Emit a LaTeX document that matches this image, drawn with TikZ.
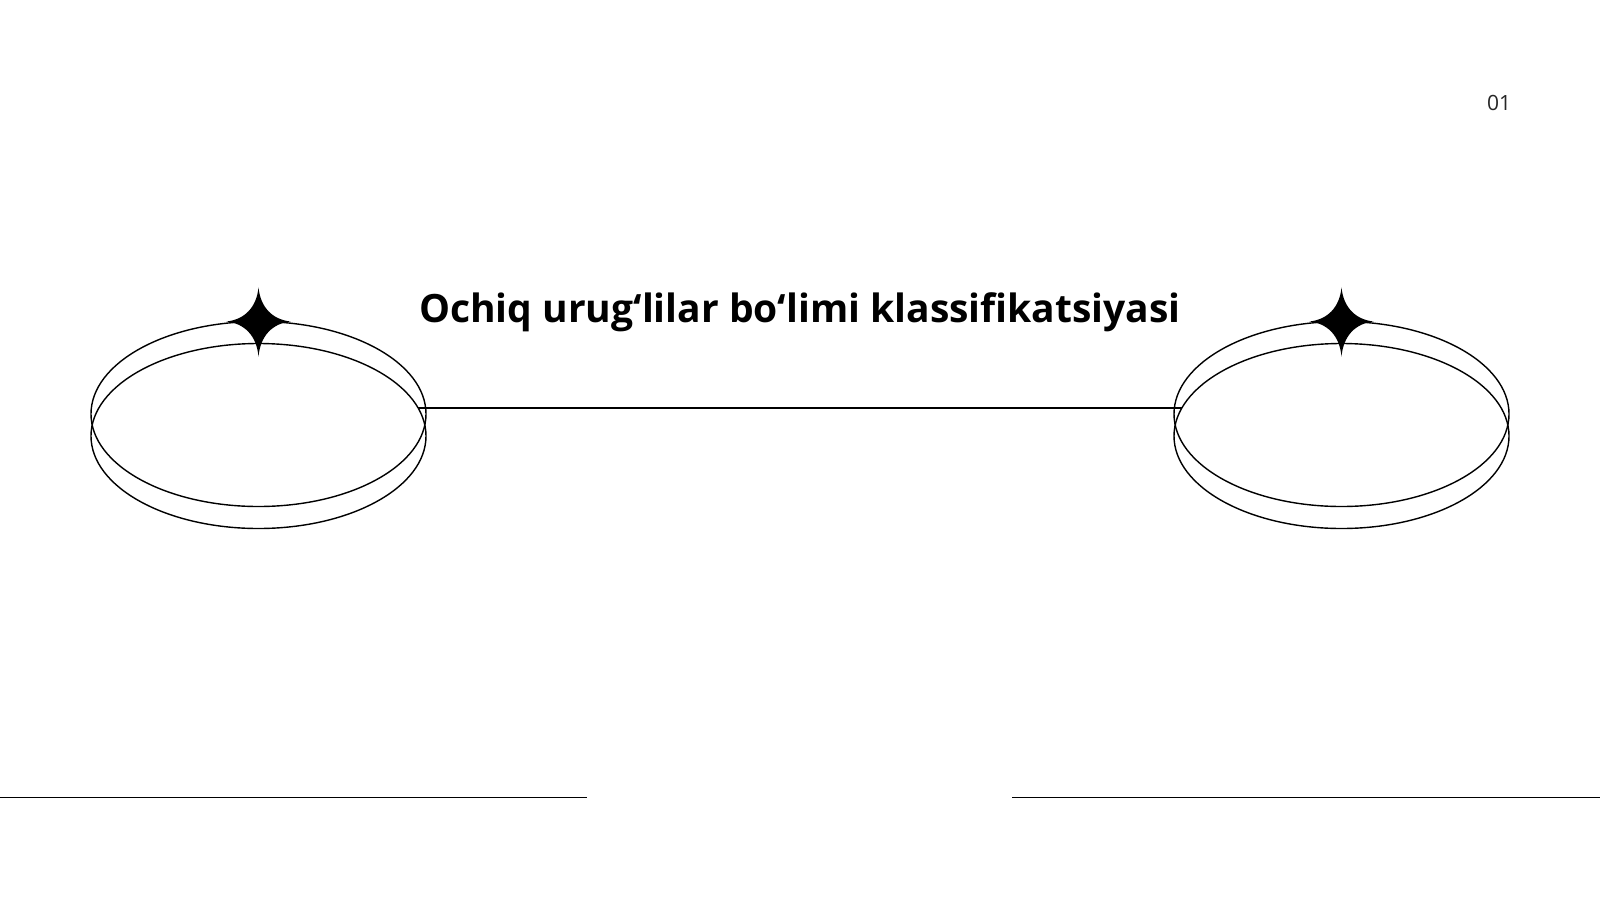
\documentclass[tikz,border=0pt]{standalone}
\usepackage{fontspec}
\setmainfont{Open Sans}
\usetikzlibrary{shapes.geometric,calc}
\tikzset{
  ring/.style={ellipse, draw=black, line width=1.4pt, minimum width=335pt, minimum height=185pt, inner sep=0pt},
  rule/.style={draw=black, line width=1.8pt},
  sparkle/.style={fill=black, draw=none},
}
\newcommand{\sparkleat}[2]{%
  \fill[sparkle] (#1,#2-34) .. controls (#1+2,#2-14) and (#1+14,#2-2) .. (#1+32,#2)
    .. controls (#1+14,#2+2) and (#1+2,#2+14) .. (#1,#2+35)
    .. controls (#1-2,#2+14) and (#1-14,#2+2) .. (#1-32,#2)
    .. controls (#1-14,#2-2) and (#1-2,#2-14) .. cycle;}
\begin{document}
\begin{tikzpicture}[x=1pt,y=-1pt]
\useasboundingbox (0,0) rectangle (1600,900);
\fill[white] (0,0) rectangle (1600,900);
% left rings
\node[ring] (lA) at (258.5,414) {};
\node[ring] (lB) at (258.5,436) {};
% right rings
\node[ring] (rA) at (1341.5,414) {};
\node[ring] (rB) at (1341.5,436) {};
% connector
\coordinate (cl) at ($(lB.center)+(159.8,-27.8)$);
\coordinate (cr) at ($(rB.center)+(-159.8,-27.8)$);
\draw[rule] (cl) -- (cr);
% sparkles
\sparkleat{258.5}{321.5}
\sparkleat{1341.5}{321.5}
% title
\node[anchor=base, inner sep=0pt, font=\bfseries\fontsize{39}{46}\selectfont] (title) at (800,322.5) {Ochiq urug‘lilar bo‘limi klassifikatsiyasi};
% page number
\node[anchor=base, inner sep=0pt, text=black!85, font=\fontsize{21}{25}\selectfont] (num) at (1499,110.5) {01};
% bottom rules
\coordinate (bl0) at (0,797.5);
\coordinate (bl1) at (587,797.5);
\coordinate (br0) at (1012,797.5);
\coordinate (br1) at (1600,797.5);
\draw[rule] (bl0) -- (bl1);
\draw[rule] (br0) -- (br1);
\end{tikzpicture}
\end{document}
